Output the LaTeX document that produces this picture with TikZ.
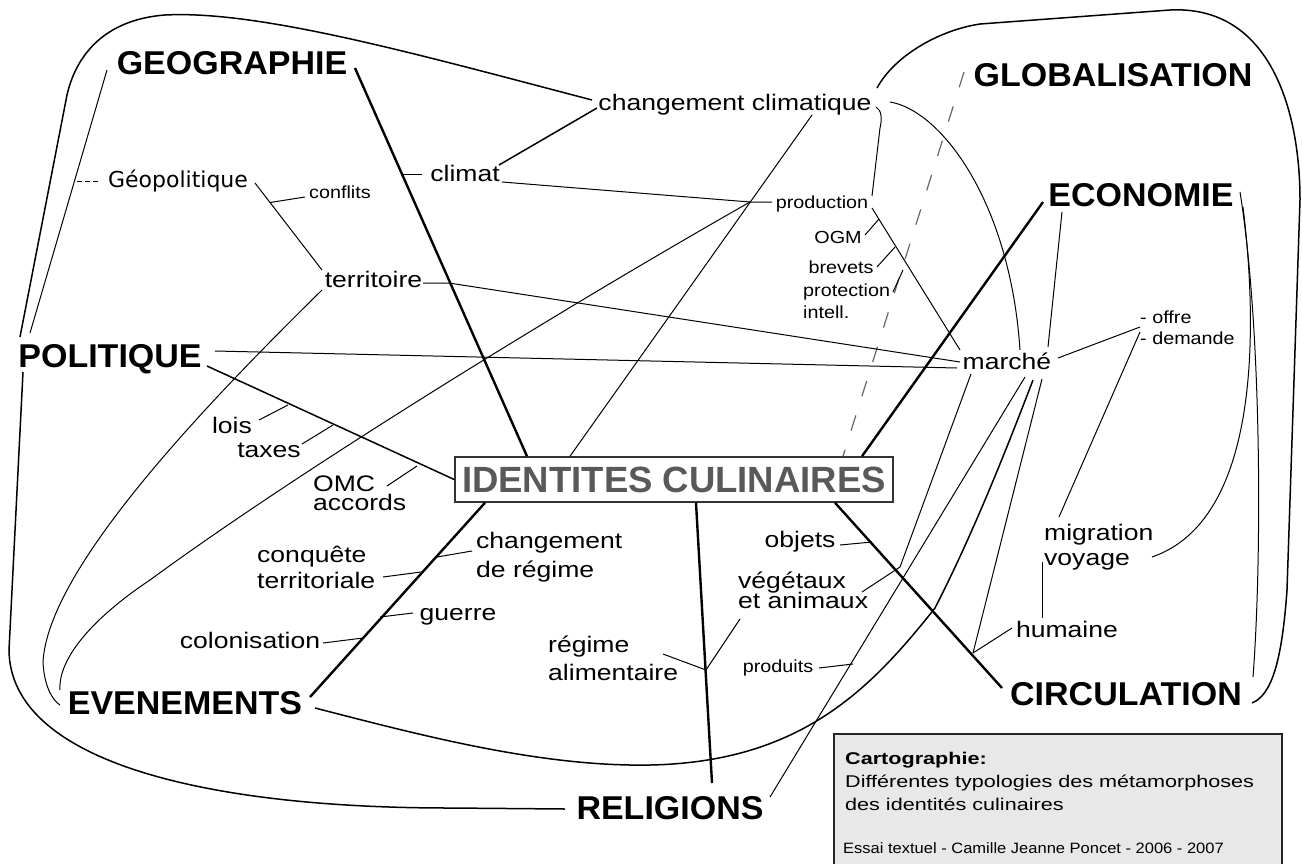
\documentclass[tikz,border=0pt]{standalone}
\usepackage{fontspec}
\setmainfont{Liberation Sans}
\newfontfamily\bigfam{Liberation Sans}[FakeStretch=1.03]
\newfontfamily\medfam{Liberation Sans}[FakeStretch=1.18]
\newfontfamily\smlfam{Liberation Sans}[FakeStretch=1.13]
\newfontfamily\boxfam{Liberation Sans}[FakeStretch=1.27]
\newfontfamily\essfam{Liberation Sans}[FakeStretch=1.1]
\newfontfamily\geofam{DejaVu Sans}
\usetikzlibrary{calc}
\tikzset{
  big/.style={inner sep=0pt, anchor=base, font=\bigfam\bfseries\fontsize{33}{38}\selectfont},
  med/.style={inner sep=0pt, anchor=base, font=\medfam\fontsize{22.5}{26}\selectfont},
  sml/.style={inner sep=0pt, anchor=base, font=\smlfam\fontsize{17.5}{21}\selectfont},
  geopol/.style={inner sep=0pt, anchor=base, font=\geofam\fontsize{22}{26}\selectfont},
  medm/.style={inner sep=0pt, anchor=north west, align=left, font={\medfam\fontsize{22.5}{#1}\selectfont\lineskiplimit=-100pt}},
  smlm/.style={inner sep=0pt, anchor=north west, align=left, font={\smlfam\fontsize{17.5}{#1}\selectfont\lineskiplimit=-100pt}},
  idbox/.style={draw=black!80, line width=1.5pt, fill=white, minimum width=438pt, minimum height=45pt, inner sep=0pt, text=black!65, font=\bfseries\fontsize{36.5}{40}\selectfont},
  thickline/.style={line width=2.4pt},
  midline/.style={line width=1.5pt},
  thinline/.style={line width=1pt},
  dashline/.style={line width=1.2pt, draw=black!60, dash pattern=on 16pt off 20pt},
  legtext/.style={inner sep=0pt, anchor=base west},
}
\begin{document}
\begin{tikzpicture}[x=1pt,y=-1pt]
\useasboundingbox (0,0) rectangle (1302,863);

% ---------- main nodes
\node[big] (geo) at (232,74) {GEOGRAPHIE};
\node[big] (glob) at (1113,86) {GLOBALISATION};
\node[big] (eco) at (1141,206) {ECONOMIE};
\node[big] (pol) at (110,367) {POLITIQUE};
\node[big] (eve) at (185,714) {EVENEMENTS};
\node[big] (rel) at (670,819) {RELIGIONS};
\node[big] (circ) at (1126,705) {CIRCULATION};
\node[idbox] (id) at (674,479.5) {IDENTITES CULINAIRES};

% ---------- secondary nodes
\node[med] (cc) at (735,110) {changement climatique};
\node[med] (climat) at (465,181) {climat};
\node[med] (terr) at (373.5,287) {territoire};
\node[geopol] (geop) at (178,187) {Géopolitique};
\node[sml] (confl) at (340,198) {conflits};
\node[med] (marche) at (1007,369) {marché};
\node[med] (lois) at (232,433) {lois};
\node[med] (taxes) at (269,457) {taxes};
\node[medm=19.5] (omc) at (313,471) {\rule{0pt}{20pt}OMC\\accords};
\node[medm=26] (conq) at (257,542) {\rule{0pt}{20pt}conquête\\territoriale};
\node[medm=29] (chreg) at (476,528) {\rule{0pt}{20pt}changement\\de régime};
\node[med] (guerre) at (458,620) {guerre};
\node[med] (colon) at (250,648) {colonisation};
\node[medm=28] (regal) at (548,632) {\rule{0pt}{20pt}régime\\alimentaire};
\node[medm=20] (veget) at (738,568) {\rule{0pt}{20pt}végétaux\\et animaux};
\node[med] (objets) at (800,547) {objets};
\node[medm=25] (migr) at (1044,520) {\rule{0pt}{20pt}migration\\voyage};
\node[med] (hum) at (1067,637) {humaine};
\node[sml] (prod) at (822,208) {production};
\node[sml] (ogm) at (838,243) {OGM};
\node[sml] (brev) at (841,273) {brevets};
\node[smlm=22] (prot) at (803,280) {\rule{0pt}{16pt}protection\\intell.};
\node[smlm=21] (offre) at (1140,307) {\rule{0pt}{16pt}- offre\\- demande};
\node[sml] (produits) at (778,672) {produits};

% ---------- junction points
\coordinate (pj) at (750,202);
\coordinate (tj) at (449,283);
\coordinate (confj) at (270,202.5);
\coordinate (geopj) at (74.5,181);
\coordinate (climj) at (402,174);
\coordinate (loisj) at (288,405);
\coordinate (taxj) at (333,425);
\coordinate (omcj) at (417,466);
\coordinate (chj) at (437,557);
\coordinate (conqj) at (421,572);
\coordinate (guej) at (380,617);
\coordinate (colj) at (363,638);
\coordinate (rj) at (706,670);
\coordinate (objj) at (872,542);
\coordinate (cj) at (973,653);
\coordinate (vj) at (900,567);
\coordinate (prodj) at (853,664);
\coordinate (ogmj) at (879,219);
\coordinate (brevj) at (895,247);
\coordinate (protj) at (903,270);

% ---------- main branches
\draw[thickline] ($(geo.base)+(123,-6)$) -- ($(id.north)+(-147,0)$);
\draw[midline] ($(pol.base)+(97,-1)$) -- (id.west);
\draw[thickline] ($(eve.base)+(125,-17)$) -- ($(id.south)+(-189,0)$);
\draw[thickline] ($(rel.base)+(42,-36)$) -- ($(id.south)+(22,0)$);
\draw[thickline] ($(circ.base)+(-124,-17)$) -- ($(id.south)+(161,0)$);
\draw[thickline] ($(eco.base)+(-98,-4)$) -- ($(id.north)+(188,0)$);
\draw[dashline] ($(glob.base)+(-149,-14)$) -- ($(id.north)+(169,0)$);

% ---------- outer links
\draw[thinline] ($(geo.base)+(-125,-4)$) -- ($(pol.base)+(-80,-34)$);
\draw[midline] ($(cc.base)+(-143,-10)$) .. controls (420,55) and (260,10) .. (165,15)
   .. controls (100,20) and (75,60) .. (67,95) -- ($(pol.base)+(-90,-30)$);
\draw[midline] ($(pol.base)+(-87,5)$) -- (9,650) .. controls (10,760) and (200,808) .. (450,808)
   -- ($(rel.base)+(-105,-10)$);
\draw[midline] ($(cc.base)+(142,-22)$) .. controls (895,55) and (940,30) .. (980,24) -- (1170,10)
   .. controls (1270,5) and (1300,110) .. (1300,200) -- (1287,590)
   .. controls (1282,660) and (1272,695) .. ($(circ.base)+(126,-2)$);
\draw[thinline] ($(eco.base)+(99,-14)$) .. controls (1262,330) and (1262,560) .. ($(circ.base)+(127,-28)$);
\draw[thinline] ($(eco.base)+(102,1)$) .. controls (1258,330) and (1260,520) .. ($(migr.north west)+(108,37)$);

% ---------- changement climatique
\draw[thinline] ($(cc.base)+(155,-8)$) .. controls (940,110) and (1010,200) .. ($(marche.base)+(13,-19)$);
\draw[thinline] ($(cc.base)+(141,-3)$) .. controls (882,110) and (882,120) .. (880,128) -- ($(prod.base)+(50,-12)$);
\draw[thinline] ($(cc.base)+(77,5)$) -- ($(id.north)+(-104,0)$);
\draw[midline] ($(climat.base)+(34,-16)$) -- ($(cc.base)+(-138,-2)$);
\draw[thinline] ($(climat.base)+(37,1)$) -- (pj) -- ($(prod.base)+(-50,-6)$);
\draw[thinline] (pj) .. controls (560,310) and (300,470) .. (150,580)
   .. controls (90,620) and (58,660) .. ($(eve.base)+(-125,-24)$);
\draw[thinline] ($(climat.base)+(-43,-7)$) -- (climj);

% ---------- territoire / geopolitique
\draw[thinline] ($(terr.base)+(-51.5,3)$) .. controls (200,410) and (48,570) .. (43,662)
   .. controls (44,685) and (52,700) .. ($(eve.base)+(-125,-9)$);
\draw[thinline] ($(terr.base)+(49.5,-4)$) -- (tj) -- ($(marche.base)+(-47,-7)$);
\draw[thinline] ($(pol.base)+(105,-16)$) -- ($(marche.base)+(-50,-1)$);
\draw[thinline] ($(geop.base)+(77,-4)$) -- ($(terr.base)+(-51.5,-17)$);
\draw[thinline] ($(confl.base)+(-35,-1)$) -- (confj);
\draw[thinline, dash pattern=on 5pt off 3pt] ($(geop.base)+(-80,-6)$) -- (geopj);

% ---------- politique
\draw[thinline] ($(lois.base)+(27,-13)$) -- (loisj);
\draw[thinline] ($(taxes.base)+(33,-13)$) -- (taxj);
\draw[thinline] ($(omc.north west)+(74,15)$) -- (omcj);

% ---------- evenements
\draw[thinline] ($(chreg.north west)+(-4,23)$) -- (chj);
\draw[thinline] ($(conq.north west)+(126,35)$) -- (conqj);
\draw[thinline] ($(guerre.base)+(-45,-7)$) -- (guej);
\draw[thinline] ($(colon.base)+(73,-5)$) -- (colj);

% ---------- religions / circulation
\draw[thinline] ($(regal.north west)+(115,22)$) -- (rj) -- ($(veget.north west)+(2,51)$);
\draw[thinline] ($(objets.base)+(40,-2)$) -- (objj);
\draw[thinline] ($(hum.base)+(-55,-9)$) -- (cj);
\draw[thinline] ($(migr.north west)+(-2,42)$) -- ($(hum.base)+(-25,-19)$);

% ---------- marche
\draw[thinline] ($(marche.base)+(-36,5)$) -- (vj) -- ($(veget.north west)+(124,24)$);
\draw[thinline] ($(marche.base)+(18,8)$) -- ($(rel.base)+(100,-22)$);
\draw[thinline] ($(produits.base)+(41,-4)$) -- (prodj);
\draw[midline] ($(eve.base)+(130,-6)$) .. controls (420,735) and (540,767) .. (650,765)
   .. controls (800,762) and (870,690) .. (935,608)
   .. controls (975,530) and (1010,440) .. ($(marche.base)+(26,11)$);
\draw[thinline] ($(marche.base)+(35,10)$) -- (cj);
\draw[thinline] ($(eco.base)+(-79,6)$) -- ($(marche.base)+(41,-22)$);
\draw[thinline] ($(marche.base)+(51,-11)$) -- ($(offre.north west)+(0,20)$);
\draw[thinline] ($(offre.north west)+(0,25)$) -- ($(migr.north west)+(15,-3)$);

% ---------- production
\draw[thinline] ($(prod.base)+(50,0)$) -- ($(marche.base)+(-47,-19)$);
\draw[thinline] ($(ogm.base)+(27,-8)$) -- (ogmj);
\draw[thinline] ($(brev.base)+(36,-6)$) -- (brevj);
\draw[thinline] ($(prot.north west)+(90,12)$) -- (protj);

% ---------- legend box
\draw[draw=black!85, line width=1.5pt, fill=black!9] (834,734) rectangle (1282,875);
\node[legtext, font=\boxfam\bfseries\fontsize{17}{20}\selectfont] (legt) at (845,764) {Cartographie:};
\node[legtext, font=\boxfam\fontsize{17}{20}\selectfont] (leg1) at (845,787) {Différentes typologies des métamorphoses};
\node[legtext, font=\boxfam\fontsize{17}{20}\selectfont] (leg2) at (845,810) {des identités culinaires};
\node[legtext, font=\essfam\fontsize{15}{18}\selectfont] (leg3) at (843,853) {Essai textuel - Camille Jeanne Poncet - 2006 - 2007};
\end{tikzpicture}
\end{document}
